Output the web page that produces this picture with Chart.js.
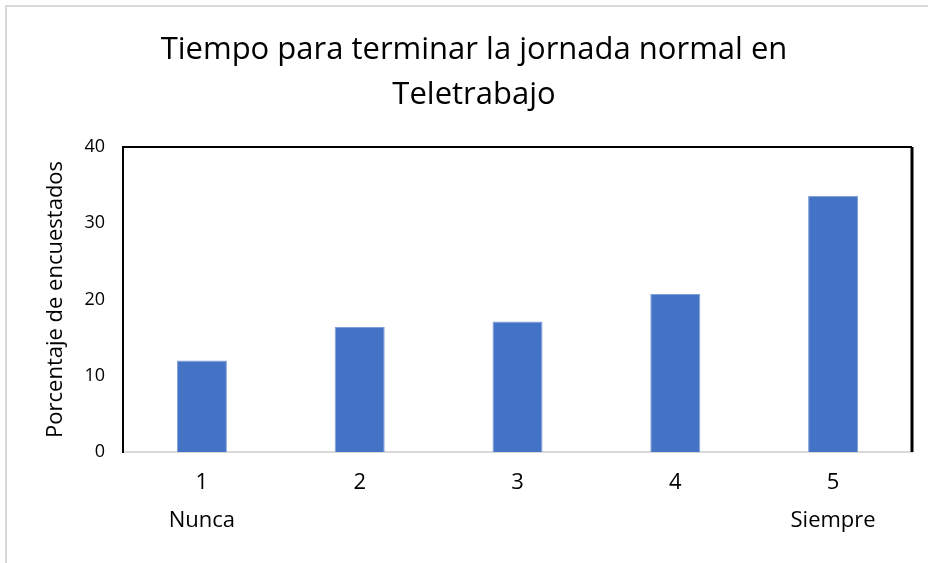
<!DOCTYPE html>
<html>
<head>
<meta charset="utf-8">
<script src="https://cdn.jsdelivr.net/npm/chart.js@4.4.0/dist/chart.umd.min.js"></script>
<style>
  html, body { margin: 0; padding: 0; background: #fff; }
  #marco { position: absolute; left: 5px; top: 5px; width: 930px; height: 570px;
           border-left: 2px solid #d9d9d9; border-top: 2px solid #d9d9d9; }
  #grafico { position: absolute; left: 0; top: 0; }
</style>
</head>
<body>
<div id="marco"></div>
<canvas id="grafico" width="928" height="563"></canvas>
<script>
  // datos
  const categorias = [['1', 'Nunca'], ['2', ''], ['3', ''], ['4', ''], ['5', 'Siempre']];
  const porcentajes = [12.0, 16.4, 17.1, 20.7, 33.6];
  const ticksY = [0, 10, 20, 30, 40];

  const fuente = '"Open Sans", Lato, sans-serif';

  // marco negro arriba y a la derecha del area de trazado
  const bordeArea = {
    id: 'bordeArea',
    afterDraw(chart) {
      const { ctx, chartArea: a } = chart;
      ctx.save();
      ctx.strokeStyle = '#000';
      ctx.lineWidth = 2;
      ctx.beginPath();
      ctx.moveTo(a.left, a.top);
      ctx.lineTo(a.right, a.top);
      ctx.stroke();
      ctx.lineWidth = 3;
      ctx.beginPath();
      ctx.moveTo(a.right, a.top);
      ctx.lineTo(a.right, a.bottom);
      ctx.stroke();
      ctx.restore();
    }
  };

  const ctx = document.getElementById('grafico').getContext('2d');
  new Chart(ctx, {
    type: 'bar',
    data: {
      labels: categorias,
      datasets: [{
        data: porcentajes,
        backgroundColor: '#4472c4',
        borderColor: '#7f9fd8',
        borderWidth: 1,
        barPercentage: 0.317,
        categoryPercentage: 1
      }]
    },
    options: {
      responsive: false,
      animation: false,
      layout: { padding: { left: 36, right: 16, top: 0, bottom: 11 } },
      plugins: {
        legend: { display: false },
        tooltip: { enabled: false },
        title: {
          display: true,
          text: ['Tiempo para terminar la jornada normal en', 'Teletrabajo'],
          color: '#000',
          font: { family: fuente, size: 31, weight: 'normal', lineHeight: 1.45 },
          padding: { top: 28, bottom: 29 }
        }
      },
      scales: {
        x: {
          grid: { display: false, drawTicks: false },
          border: { color: '#d9d9d9', width: 2 },
          ticks: {
            color: '#000',
            padding: 12,
            font: { family: fuente, size: 22, lineHeight: 1.73 }
          },
          afterFit(scale) { scale.height = 100; }
        },
        y: {
          min: 0,
          max: 40,
          afterBuildTicks(scale) { scale.ticks = ticksY.map(v => ({ value: v })); },
          grid: { display: false, drawTicks: false },
          border: { color: '#000', width: 2 },
          ticks: {
            color: '#000',
            padding: 18,
            font: { family: fuente, size: 18 }
          },
          title: {
            display: true,
            text: 'Porcentaje de encuestados',
            color: '#000',
            font: { family: fuente, size: 22 },
            padding: { top: 7, bottom: 0 }
          },
          afterFit(scale) { scale.width = 87; }
        }
      }
    },
    plugins: [bordeArea]
  });
</script>
</body>
</html>
